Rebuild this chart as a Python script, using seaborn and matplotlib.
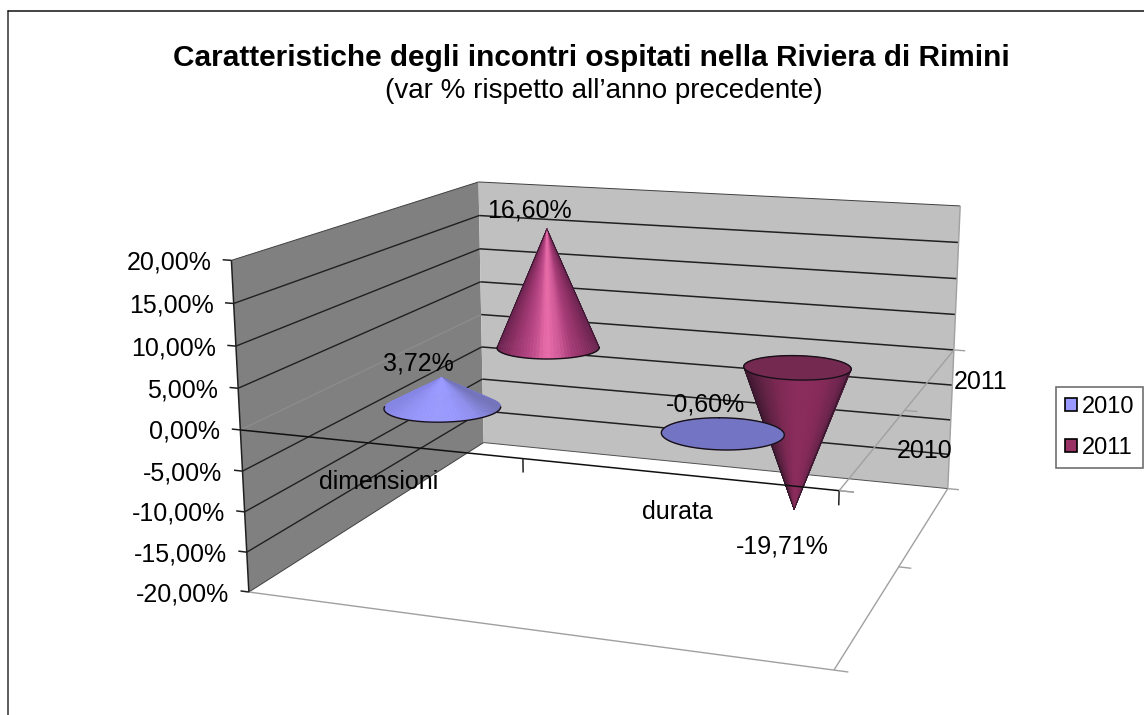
import numpy as np
import matplotlib
matplotlib.use("Agg")
import matplotlib.pyplot as plt
import seaborn as sns
from matplotlib.lines import Line2D
from matplotlib.patches import Patch
from mpl_toolkits.mplot3d import proj3d
from mpl_toolkits.mplot3d.art3d import Poly3DCollection

# values
categories = ["dimensioni", "durata"]
series = ["2010", "2011"]
values_2010 = [3.72, -0.60]
values_2011 = [16.60, -19.71]
value_ticks = [20, 15, 10, 5, 0, -5, -10, -15, -20]

sns.set_theme(style="white")
plt.rcParams["font.family"] = ["Liberation Sans", "DejaVu Sans"]
plt.rcParams["text.color"] = "black"

fig = plt.figure(figsize=(11.44, 7.15), dpi=100)
# camera values fitted to the box corners of the original
ax = fig.add_axes([-0.5 + 36.14 / 1144, -0.5 - 48.36 / 715, 2, 2], projection="3d")
ax.set_xlim(0, 1, view_margin=0)
ax.set_ylim(0, 1, view_margin=0)
ax.set_zlim(-20, 20, view_margin=0)
AZIM = -70.5291
ax.view_init(elev=14.1034, azim=AZIM)
ax.set_proj_type("persp", focal_length=0.2403)
ax.set_box_aspect((1, 0.9716, 0.5625), zoom=0.5708)
ax.set_axis_off()
ax.patch.set_alpha(0)
ax.computed_zorder = False
ax.apply_aspect()
M = ax.get_proj()


def seg(p0, p1, color="black", lw=1.1, z=3):
    ax.plot([p0[0], p1[0]], [p0[1], p1[1]], [p0[2], p1[2]], color=color, lw=lw,
            zorder=z, solid_capstyle="butt")


def wall(corners, color):
    ax.add_collection3d(Poly3DCollection([corners], facecolors=color, edgecolors="none", zorder=1), autolim=False)


def label(text, p, dx, dy, size=18, **kw):
    x2, y2, _ = proj3d.proj_transform(p[0], p[1], p[2], M)
    ax.annotate(text, (x2, y2), xytext=(dx, dy), textcoords="offset pixels",
                va="center", fontsize=size, color="black", zorder=20, **kw)


# walls
wall([(0, 0, -20), (0, 1, -20), (0, 1, 20), (0, 0, 20)], "#808080")
wall([(0, 1, -20), (1, 1, -20), (1, 1, 20), (0, 1, 20)], "#c0c0c0")

for v in value_ticks:
    if abs(v) == 20:
        continue
    seg((0, 1, v), (1, 1, v), color="#202020", z=2)
    seg((0, 0, v), (0, 1, v), lw=1.0, color="#8c8c8c" if v == 0 else "#202020", z=2)

seg((0, 0, 20), (0, 1, 20), color="#404040", lw=0.7, z=2)
seg((0, 1, 20), (1, 1, 20), color="#404040", lw=0.7, z=2)
seg((0, 0, -20), (0, 1, -20), color="#404040", lw=0.7, z=2)
seg((0, 1, -20), (1, 1, -20), color="#505050", lw=0.7, z=2)
seg((1, 1, -20), (1, 1, 20), color="#a0a0a0", lw=1.0, z=2)
seg((0, 0, -20), (1, 0, -20), color="#a0a0a0", lw=1.0, z=2)
seg((1, 0, -20), (1, 1, -20), color="#a0a0a0", lw=1.0, z=2)
seg((1, 0, 0), (1, 1, 0), color="#a0a0a0", lw=1.0, z=2.5)

# ticks on the series axes
for y in (0, 0.5, 1):
    seg((1, y, 0), (1.022, y, 0), color="#a0a0a0", lw=1.0, z=2.5)
    seg((1, y, -20), (1.022, y, -20), color="#a0a0a0", lw=1.0, z=2.5)


def cone(cx, cy, value, shades, disc=None, z=5, r=0.1, n=90):
    az = np.radians(AZIM)
    theta = az + np.linspace(-np.pi, np.pi, n + 1)
    ring = np.column_stack([cx + r * np.cos(theta), cy + r * np.sin(theta), np.zeros(n + 1)])
    apex = (cx, cy, value)
    polys, cols = [], []
    pal = sns.blend_palette(shades, 101)
    for i in range(n):
        mid = (theta[i] + theta[i + 1]) / 2
        u = np.sin(mid - az)
        polys.append([apex, tuple(ring[i]), tuple(ring[i + 1])])
        cols.append(pal[int(round((u + 1) * 50))])
    ax.add_collection3d(Poly3DCollection(polys, facecolors=cols, edgecolors=cols, linewidths=0.4, zorder=z), autolim=False)
    # side outline, only on the tall cones
    if abs(value) > 5:
        for side in (-np.pi / 2, np.pi / 2):
            ax.plot([cx, cx + r * np.cos(az + side)], [cy, cy + r * np.sin(az + side)], [value, 0],
                    color="#2a1626", lw=0.6, zorder=z + 0.2)
    if value > 0:
        # near half of the rim only
        front = np.cos(theta - az) > -0.05
        ax.plot(ring[front, 0], ring[front, 1], ring[front, 2], color="#181018", lw=1.0, zorder=z + 0.5)
    else:
        ax.add_collection3d(Poly3DCollection([[tuple(q) for q in ring]], facecolors=disc, edgecolors="none", zorder=z + 0.3), autolim=False)
        ax.plot(ring[:, 0], ring[:, 1], ring[:, 2], color="#181018", lw=1.0, zorder=z + 0.5)


x_pos = [0.25, 0.75]
y_pos = [0.25, 0.75]

pink = ["#6a2450", "#8a2f62", "#a63c78", "#c04d8c", "#ea6eaa", "#d05a98", "#a63c78", "#8a2f62", "#6a2450"]
plum = ["#3f1830", "#642346", "#7e2955", "#8a2c5c", "#8a2c5c", "#842a58", "#702650", "#4c1c3a"]
blue = ["#8585e6", "#9292f5", "#9999ff", "#9c9cff", "#9999ff", "#9090ee", "#7474bc"]
blue2 = ["#50508c", "#6c6cb8", "#7474c4", "#7474c4", "#6c6cb8", "#50508c"]

cone(x_pos[0], y_pos[1], values_2011[0], pink, z=5)
cone(x_pos[1], y_pos[1], values_2011[1], plum, disc="#742950", z=6)
cone(x_pos[0], y_pos[0], values_2010[0], blue, z=7)
cone(x_pos[1], y_pos[0], values_2010[1], blue2, disc="#7474c4", z=8)

# value axis and category axis in front
seg((0, 0, -20), (0, 0, 20), color="#202020", z=9)
seg((0, 0, 0), (1, 0, 0), color="#101010", z=9)
seg((0.5, 0, 0), (0.5, 0, -1.6), color="#202020", z=9)
seg((1, 0, 0), (1, 0, -1.6), color="#202020", z=9)
seg((1, 0, 0), (1.022, 0, 0), color="#a0a0a0", lw=1.0, z=9)

for v in value_ticks:
    seg((-0.016, 0, v), (0, 0, v), color="#202020", z=9)
    label(f"{v:.2f}%".replace(".", ","), (0, 0, v), -20, -2, ha="right")

# axis labels
label(categories[0], (x_pos[0], 0, 0), 1, -38, ha="center")
label(categories[1], (x_pos[1], 0, 0), 1, -38, ha="center")
label(series[0], (1, y_pos[0], 0), 50, -4, ha="center")
label(series[1], (1, y_pos[1], 0), 50, -4, ha="center")

# data labels
for xp, yp, vals, offs in [(x_pos, y_pos[0], values_2010, [(-23, 14), (-17, 34)]),
                           (x_pos, y_pos[1], values_2011, [(-17, 19), (-12, -37)])]:
    for xc, val, off in zip(xp, vals, offs):
        label(f"{val:.2f}%".replace(".", ","), (xc, yp, val), off[0], off[1], ha="center")

# title
fig.text(591.5 / 1144, 1 - 58 / 715, "Caratteristiche degli incontri ospitati nella Riviera di Rimini",
         fontsize=21.4, fontweight="bold", ha="center", va="center", color="black")
fig.text(604 / 1144, 1 - 91 / 715, "(var % rispetto all’anno precedente)",
         fontsize=20, ha="center", va="center", color="black")

# legend
handles = [Patch(facecolor="#9999ff", edgecolor="black", lw=1.2),
           Patch(facecolor="#993366", edgecolor="black", lw=1.2)]
leg = fig.legend(handles, series, loc="upper left", bbox_to_anchor=(1056 / 1144, 1 - 387 / 715),
                 borderaxespad=0, fancybox=False, framealpha=1, edgecolor="#707070", fontsize=17,
                 handlelength=0.5, handleheight=0.5, handletextpad=0.2, labelspacing=0.8, borderpad=0.38)
leg.get_frame().set_linewidth(1.2)

# chart area border
fig.add_artist(Line2D([7.5 / 1144, 7.5 / 1144], [0, 1 - 10.5 / 715], color="#303030", lw=1.1))
fig.add_artist(Line2D([7.5 / 1144, 1], [1 - 10.5 / 715, 1 - 10.5 / 715], color="#101010", lw=1.1))

fig.savefig("out.png", dpi=100)
